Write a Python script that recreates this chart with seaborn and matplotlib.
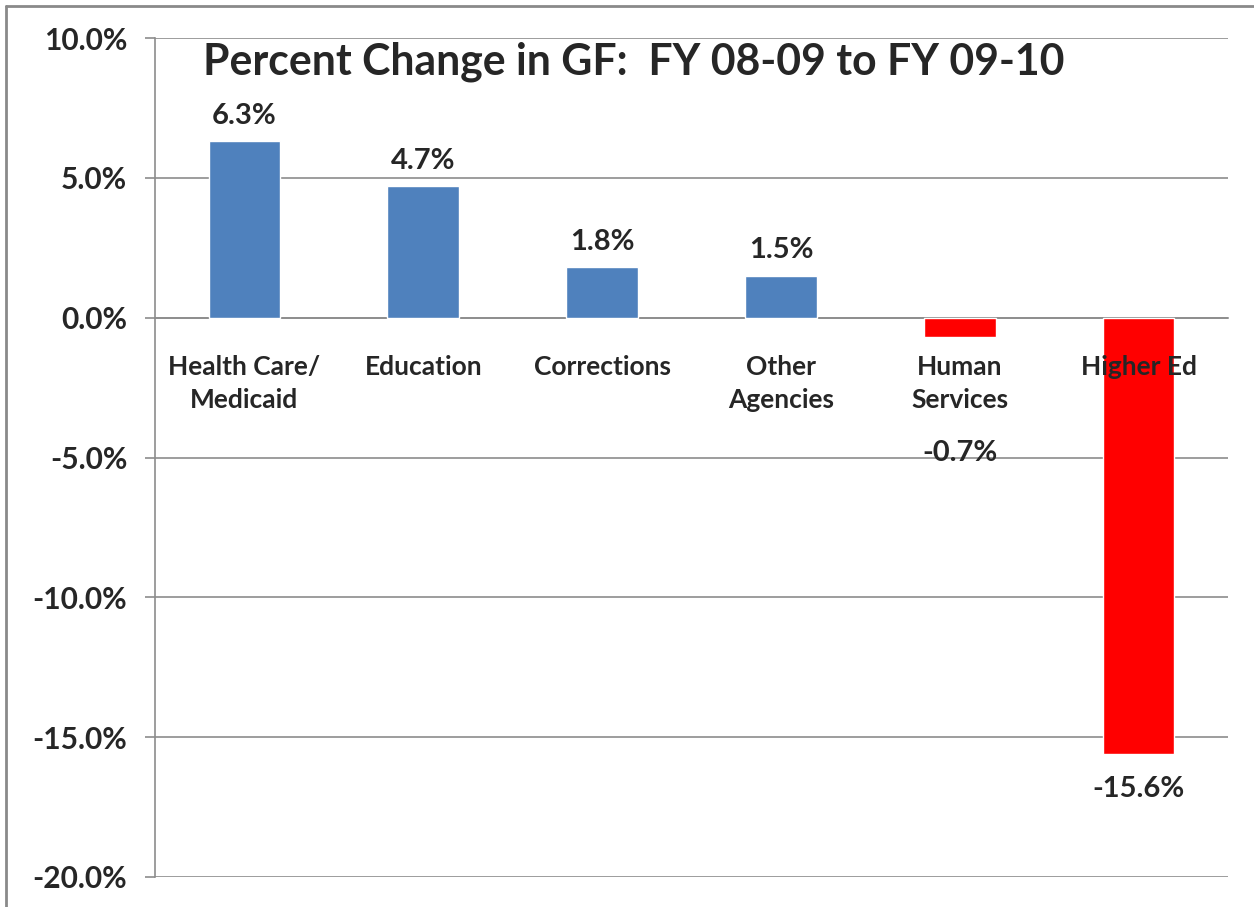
import matplotlib
matplotlib.use("Agg")
import matplotlib.pyplot as plt
from matplotlib.lines import Line2D
import seaborn as sns

# chart data (percent change, FY 08-09 to FY 09-10)
categories = ["Health Care/\nMedicaid", "Education", "Corrections",
              "Other\nAgencies", "Human\nServices", "Higher Ed"]
pct_change = [6.3, 4.7, 1.8, 1.5, -0.7, -15.6]
y_ticks = [10, 5, 0, -5, -10, -15, -20]

BLUE = "#4F81BD"
RED = "#FF0000"
GRID = "#8C8C8C"

sns.set_theme(style="white")
plt.rcParams["font.family"] = ["Lato", "DejaVu Sans"]
plt.rcParams["font.weight"] = "bold"

fig = plt.figure(figsize=(12.54, 9.07), dpi=100)
ax = fig.add_axes([155 / 1254, 1 - 877 / 907, (1228 - 155) / 1254, (877 - 38) / 907])

colors = [BLUE if v >= 0 else RED for v in pct_change]
sns.barplot(x=list(range(len(categories))), y=pct_change,
            hue=list(range(len(categories))), palette=colors,
            legend=False, width=0.4, saturation=1, ax=ax, zorder=3)

ax.set_xlim(-0.5, len(categories) - 0.5)
ax.set_ylim(-20, 10)
ax.set_yticks(y_ticks)
ax.set_yticklabels([f"{t:.1f}%" for t in y_ticks], fontsize=21.5, fontweight="bold")
ax.yaxis.grid(True, color=GRID, lw=1.2, zorder=0)
ax.xaxis.grid(False)

# x axis sits on the zero line; ticks at category boundaries, labels at centers
ax.spines["bottom"].set_position(("data", 0))
ax.spines["bottom"].set_color(GRID)
ax.spines["left"].set_color(GRID)
ax.spines["left"].set_linewidth(1.2)
ax.spines["bottom"].set_linewidth(1.2)
ax.spines["top"].set_visible(False)
ax.spines["right"].set_visible(False)

ax.set_xticks([i + 0.5 for i in range(len(categories))])
ax.set_xticklabels([])
ax.set_xticks(list(range(len(categories))), minor=True)
ax.set_xticklabels(categories, minor=True, fontsize=19, fontweight="bold",
                   linespacing=1.45, va="top")
ax.tick_params(axis="x", which="major", direction="out", length=7, color=GRID, width=1.2)
ax.tick_params(axis="x", which="minor", length=0, pad=27)
ax.tick_params(axis="y", direction="out", length=7, color=GRID, width=1.2, pad=13, left=True)
ax.xaxis.set_zorder(4)  # category labels on top of the bars
ax.set_xlabel("")
ax.set_ylabel("")

# value labels
for i, v in enumerate(pct_change):
    if v >= 0:
        ax.annotate(f"{v:.1f}%", (i, v), xytext=(0, 9), textcoords="offset points",
                    ha="center", va="bottom", fontsize=21, fontweight="bold")
    else:
        y = min(v - 1.25, -4.85)
        ax.text(i, y, f"{v:.1f}%", ha="center", va="center",
                fontsize=21, fontweight="bold", zorder=5)

ax.text(0.045, 0.972, "Percent Change in GF:  FY 08-09 to FY 09-10",
        transform=ax.transAxes, ha="left", va="center", fontsize=30.8, fontweight="bold")

# outer chart frame (left and top edges)
fig.add_artist(Line2D([6 / 1254, 6 / 1254], [0, 1 - 6 / 907], transform=fig.transFigure,
                      color="#8A8A8A", lw=2))
fig.add_artist(Line2D([6 / 1254, 1], [1 - 6 / 907, 1 - 6 / 907], transform=fig.transFigure,
                      color="#8A8A8A", lw=2))

fig.savefig("out.png", dpi=100)
